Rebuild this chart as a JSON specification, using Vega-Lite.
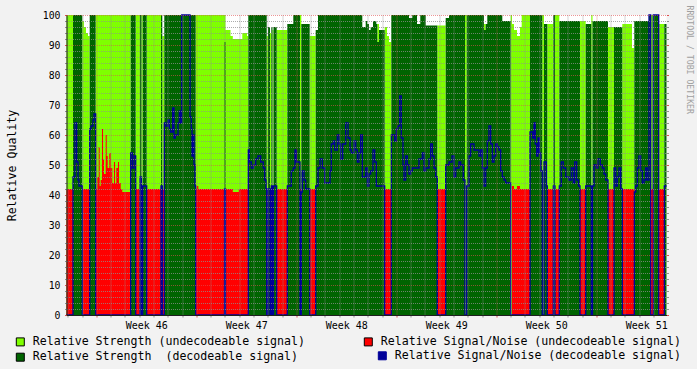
{
"$schema": "https://vega.github.io/schema/vega-lite/v6.json",
"width": 600, "height": 300,
"autosize": {"type": "none"},
"padding": {"left": 66.5, "top": 15, "right": 30.5, "bottom": 54},
"background": "#F2F2F2",
"config": {"view": {"fill": "white", "stroke": null}, "font": "DejaVu Sans Mono", "axis": {"labelFont": "DejaVu Sans Mono", "titleFont": "DejaVu Sans Mono", "labelColor": "black", "titleColor": "black"}},
"data": {"values": [
{"day":-2.086,"str_u":100,"str_d":0,"snr_u":42,"snr_d":0},
{"day":-1.631,"str_u":0,"str_d":100,"snr_u":0,"snr_d":46},
{"day":-1.491,"str_u":0,"str_d":100,"snr_u":0,"snr_d":64},
{"day":-1.372,"str_u":0,"str_d":100,"snr_u":0,"snr_d":51},
{"day":-1.281,"str_u":0,"str_d":100,"snr_u":0,"snr_d":45},
{"day":-1.211,"str_u":0,"str_d":100,"snr_u":0,"snr_d":43},
{"day":-0.98,"str_u":98,"str_d":0,"snr_u":42,"snr_d":0},
{"day":-0.861,"str_u":96,"str_d":0,"snr_u":42,"snr_d":0},
{"day":-0.721,"str_u":94,"str_d":0,"snr_u":42,"snr_d":0},
{"day":-0.581,"str_u":93,"str_d":0,"snr_u":42,"snr_d":0},
{"day":-0.462,"str_u":0,"str_d":100,"snr_u":0,"snr_d":62},
{"day":-0.371,"str_u":0,"str_d":100,"snr_u":0,"snr_d":63},
{"day":-0.231,"str_u":0,"str_d":100,"snr_u":0,"snr_d":65},
{"day":-0.161,"str_u":0,"str_d":100,"snr_u":0,"snr_d":67},
{"day":-0.042,"str_u":100,"str_d":0,"snr_u":42,"snr_d":0},
{"day":0.07,"str_u":100,"str_d":0,"snr_u":46,"snr_d":0},
{"day":0.168,"str_u":100,"str_d":0,"snr_u":56,"snr_d":0},
{"day":0.238,"str_u":100,"str_d":0,"snr_u":43,"snr_d":0},
{"day":0.308,"str_u":100,"str_d":0,"snr_u":45,"snr_d":0},
{"day":0.399,"str_u":100,"str_d":0,"snr_u":62,"snr_d":0},
{"day":0.469,"str_u":100,"str_d":0,"snr_u":52,"snr_d":0},
{"day":0.539,"str_u":100,"str_d":0,"snr_u":47,"snr_d":0},
{"day":0.658,"str_u":100,"str_d":0,"snr_u":60,"snr_d":0},
{"day":0.728,"str_u":100,"str_d":0,"snr_u":53,"snr_d":0},
{"day":0.798,"str_u":100,"str_d":0,"snr_u":49,"snr_d":0},
{"day":0.91,"str_u":100,"str_d":0,"snr_u":54,"snr_d":0},
{"day":1.008,"str_u":100,"str_d":0,"snr_u":49,"snr_d":0},
{"day":1.12,"str_u":100,"str_d":0,"snr_u":44,"snr_d":0},
{"day":1.239,"str_u":100,"str_d":0,"snr_u":51,"snr_d":0},
{"day":1.309,"str_u":100,"str_d":0,"snr_u":44,"snr_d":0},
{"day":1.4,"str_u":100,"str_d":0,"snr_u":49,"snr_d":0},
{"day":1.519,"str_u":100,"str_d":0,"snr_u":51,"snr_d":0},
{"day":1.589,"str_u":100,"str_d":0,"snr_u":44,"snr_d":0},
{"day":1.708,"str_u":100,"str_d":0,"snr_u":42,"snr_d":0},
{"day":1.82,"str_u":100,"str_d":0,"snr_u":41,"snr_d":0},
{"day":2.408,"str_u":0,"str_d":100,"snr_u":0,"snr_d":54},
{"day":2.52,"str_u":0,"str_d":100,"snr_u":0,"snr_d":49},
{"day":2.639,"str_u":0,"str_d":100,"snr_u":0,"snr_d":53},
{"day":2.758,"str_u":100,"str_d":0,"snr_u":42,"snr_d":0},
{"day":3.059,"str_u":0,"str_d":100,"snr_u":0,"snr_d":46},
{"day":3.164,"str_u":100,"str_d":0,"snr_u":42,"snr_d":0},
{"day":3.248,"str_u":0,"str_d":100,"snr_u":0,"snr_d":43},
{"day":3.528,"str_u":100,"str_d":0,"snr_u":42,"snr_d":0},
{"day":4.529,"str_u":0,"str_d":100,"snr_u":0,"snr_d":43},
{"day":4.62,"str_u":93,"str_d":0,"snr_u":42,"snr_d":0},
{"day":4.76,"str_u":0,"str_d":100,"snr_u":0,"snr_d":64},
{"day":4.879,"str_u":0,"str_d":100,"snr_u":0,"snr_d":63},
{"day":5.019,"str_u":0,"str_d":100,"snr_u":0,"snr_d":65},
{"day":5.11,"str_u":0,"str_d":100,"snr_u":0,"snr_d":62},
{"day":5.208,"str_u":0,"str_d":100,"snr_u":0,"snr_d":61},
{"day":5.348,"str_u":0,"str_d":100,"snr_u":0,"snr_d":69},
{"day":5.439,"str_u":0,"str_d":100,"snr_u":0,"snr_d":59},
{"day":5.53,"str_u":0,"str_d":100,"snr_u":0,"snr_d":60},
{"day":5.719,"str_u":0,"str_d":100,"snr_u":0,"snr_d":64},
{"day":5.81,"str_u":0,"str_d":100,"snr_u":0,"snr_d":68},
{"day":5.908,"str_u":0,"str_d":100,"snr_u":0,"snr_d":64},
{"day":5.978,"str_u":0,"str_d":100,"snr_u":0,"snr_d":100},
{"day":6.559,"str_u":0,"str_d":100,"snr_u":0,"snr_d":66},
{"day":6.65,"str_u":0,"str_d":100,"snr_u":0,"snr_d":62},
{"day":6.699,"str_u":0,"str_d":100,"snr_u":0,"snr_d":53},
{"day":6.769,"str_u":0,"str_d":100,"snr_u":0,"snr_d":60},
{"day":6.839,"str_u":0,"str_d":100,"snr_u":0,"snr_d":50},
{"day":6.909,"str_u":0,"str_d":100,"snr_u":0,"snr_d":43},
{"day":6.958,"str_u":100,"str_d":0,"snr_u":42,"snr_d":0},
{"day":7.049,"str_u":100,"str_d":0,"snr_u":43,"snr_d":0},
{"day":7.14,"str_u":100,"str_d":0,"snr_u":42,"snr_d":0},
{"day":8.974,"str_u":100,"str_d":91,"snr_u":0,"snr_d":42},
{"day":9.044,"str_u":95,"str_d":0,"snr_u":42,"snr_d":0},
{"day":9.394,"str_u":93,"str_d":0,"snr_u":42,"snr_d":0},
{"day":9.555,"str_u":92,"str_d":0,"snr_u":41,"snr_d":0},
{"day":9.975,"str_u":92,"str_d":0,"snr_u":42,"snr_d":0},
{"day":10.22,"str_u":94,"str_d":0,"snr_u":42,"snr_d":0},
{"day":10.549,"str_u":93,"str_d":0,"snr_u":42,"snr_d":0},
{"day":10.64,"str_u":0,"str_d":100,"snr_u":0,"snr_d":55},
{"day":10.71,"str_u":0,"str_d":100,"snr_u":0,"snr_d":51},
{"day":10.85,"str_u":0,"str_d":100,"snr_u":0,"snr_d":49},
{"day":10.99,"str_u":0,"str_d":100,"snr_u":0,"snr_d":50},
{"day":11.158,"str_u":0,"str_d":100,"snr_u":0,"snr_d":52},
{"day":11.319,"str_u":0,"str_d":100,"snr_u":0,"snr_d":53},
{"day":11.508,"str_u":0,"str_d":100,"snr_u":0,"snr_d":51},
{"day":11.69,"str_u":0,"str_d":100,"snr_u":0,"snr_d":49},
{"day":11.788,"str_u":0,"str_d":100,"snr_u":0,"snr_d":45},
{"day":11.879,"str_u":0,"str_d":100,"snr_u":0,"snr_d":42},
{"day":11.928,"str_u":93,"str_d":0,"snr_u":42,"snr_d":0},
{"day":12.019,"str_u":0,"str_d":96,"snr_u":0,"snr_d":42},
{"day":12.159,"str_u":94,"str_d":0,"snr_u":42,"snr_d":0},
{"day":12.25,"str_u":0,"str_d":96,"snr_u":0,"snr_d":43},
{"day":12.334,"str_u":95,"str_d":0,"snr_u":42,"snr_d":0},
{"day":12.404,"str_u":0,"str_d":96,"snr_u":0,"snr_d":43},
{"day":12.628,"str_u":95,"str_d":0,"snr_u":42,"snr_d":0},
{"day":13.37,"str_u":0,"str_d":97,"snr_u":0,"snr_d":43},
{"day":13.65,"str_u":0,"str_d":97,"snr_u":0,"snr_d":48},
{"day":13.79,"str_u":0,"str_d":100,"snr_u":0,"snr_d":49},
{"day":13.909,"str_u":0,"str_d":100,"snr_u":0,"snr_d":55},
{"day":14.0,"str_u":0,"str_d":100,"snr_u":0,"snr_d":51},
{"day":14.259,"str_u":100,"str_d":0,"snr_u":42,"snr_d":0},
{"day":14.35,"str_u":0,"str_d":97,"snr_u":0,"snr_d":41},
{"day":14.42,"str_u":0,"str_d":97,"snr_u":0,"snr_d":48},
{"day":14.539,"str_u":0,"str_d":97,"snr_u":0,"snr_d":45},
{"day":14.658,"str_u":0,"str_d":97,"snr_u":0,"snr_d":42},
{"day":14.938,"str_u":93,"str_d":0,"snr_u":42,"snr_d":0},
{"day":15.358,"str_u":0,"str_d":95,"snr_u":0,"snr_d":43},
{"day":15.519,"str_u":0,"str_d":100,"snr_u":0,"snr_d":49},
{"day":15.659,"str_u":0,"str_d":100,"snr_u":0,"snr_d":52},
{"day":15.82,"str_u":0,"str_d":100,"snr_u":0,"snr_d":49},
{"day":15.988,"str_u":0,"str_d":100,"snr_u":0,"snr_d":44},
{"day":16.359,"str_u":0,"str_d":100,"snr_u":0,"snr_d":48},
{"day":16.45,"str_u":0,"str_d":100,"snr_u":0,"snr_d":57},
{"day":16.59,"str_u":0,"str_d":100,"snr_u":0,"snr_d":58},
{"day":16.688,"str_u":0,"str_d":100,"snr_u":0,"snr_d":55},
{"day":16.87,"str_u":0,"str_d":100,"snr_u":0,"snr_d":60},
{"day":16.989,"str_u":0,"str_d":100,"snr_u":0,"snr_d":57},
{"day":17.108,"str_u":0,"str_d":100,"snr_u":0,"snr_d":52},
{"day":17.248,"str_u":0,"str_d":100,"snr_u":0,"snr_d":57},
{"day":17.458,"str_u":0,"str_d":100,"snr_u":0,"snr_d":64},
{"day":17.619,"str_u":0,"str_d":100,"snr_u":0,"snr_d":59},
{"day":17.759,"str_u":0,"str_d":100,"snr_u":0,"snr_d":55},
{"day":17.85,"str_u":0,"str_d":100,"snr_u":0,"snr_d":54},
{"day":18.039,"str_u":0,"str_d":100,"snr_u":0,"snr_d":58},
{"day":18.158,"str_u":0,"str_d":100,"snr_u":0,"snr_d":55},
{"day":18.27,"str_u":0,"str_d":100,"snr_u":0,"snr_d":51},
{"day":18.389,"str_u":0,"str_d":100,"snr_u":0,"snr_d":54},
{"day":18.508,"str_u":0,"str_d":100,"snr_u":0,"snr_d":60},
{"day":18.62,"str_u":0,"str_d":96,"snr_u":0,"snr_d":46},
{"day":18.858,"str_u":0,"str_d":98,"snr_u":0,"snr_d":49},
{"day":18.97,"str_u":0,"str_d":97,"snr_u":0,"snr_d":43},
{"day":19.089,"str_u":0,"str_d":95,"snr_u":0,"snr_d":47},
{"day":19.208,"str_u":0,"str_d":96,"snr_u":0,"snr_d":48},
{"day":19.369,"str_u":0,"str_d":98,"snr_u":0,"snr_d":55},
{"day":19.488,"str_u":0,"str_d":98,"snr_u":0,"snr_d":51},
{"day":19.6,"str_u":0,"str_d":97,"snr_u":0,"snr_d":43},
{"day":19.67,"str_u":97,"str_d":91,"snr_u":0,"snr_d":43},
{"day":19.789,"str_u":0,"str_d":95,"snr_u":0,"snr_d":43},
{"day":20.188,"str_u":96,"str_d":0,"snr_u":42,"snr_d":0},
{"day":20.349,"str_u":93,"str_d":0,"snr_u":42,"snr_d":0},
{"day":20.489,"str_u":91,"str_d":0,"snr_u":42,"snr_d":0},
{"day":20.65,"str_u":0,"str_d":100,"snr_u":0,"snr_d":60},
{"day":20.888,"str_u":0,"str_d":100,"snr_u":0,"snr_d":58},
{"day":21.0,"str_u":0,"str_d":100,"snr_u":0,"snr_d":62},
{"day":21.119,"str_u":0,"str_d":100,"snr_u":0,"snr_d":63},
{"day":21.238,"str_u":0,"str_d":100,"snr_u":0,"snr_d":73},
{"day":21.35,"str_u":0,"str_d":100,"snr_u":0,"snr_d":59},
{"day":21.469,"str_u":0,"str_d":100,"snr_u":0,"snr_d":50},
{"day":21.539,"str_u":0,"str_d":100,"snr_u":0,"snr_d":45},
{"day":21.658,"str_u":0,"str_d":100,"snr_u":0,"snr_d":53},
{"day":21.77,"str_u":0,"str_d":100,"snr_u":0,"snr_d":50},
{"day":21.889,"str_u":0,"str_d":99,"snr_u":0,"snr_d":47},
{"day":22.008,"str_u":0,"str_d":99,"snr_u":0,"snr_d":48},
{"day":22.12,"str_u":0,"str_d":100,"snr_u":0,"snr_d":49},
{"day":22.449,"str_u":0,"str_d":97,"snr_u":0,"snr_d":49},
{"day":22.589,"str_u":0,"str_d":97,"snr_u":0,"snr_d":52},
{"day":22.68,"str_u":0,"str_d":100,"snr_u":0,"snr_d":52},
{"day":22.82,"str_u":0,"str_d":100,"snr_u":0,"snr_d":54},
{"day":22.939,"str_u":0,"str_d":100,"snr_u":0,"snr_d":48},
{"day":23.058,"str_u":0,"str_d":96.5,"snr_u":0,"snr_d":49},
{"day":23.289,"str_u":0,"str_d":96.5,"snr_u":0,"snr_d":52},
{"day":23.408,"str_u":0,"str_d":96.5,"snr_u":0,"snr_d":57},
{"day":23.52,"str_u":0,"str_d":96.5,"snr_u":0,"snr_d":53},
{"day":23.639,"str_u":0,"str_d":96.5,"snr_u":0,"snr_d":49},
{"day":23.758,"str_u":0,"str_d":96.5,"snr_u":0,"snr_d":46},
{"day":23.87,"str_u":96.5,"str_d":0,"snr_u":42,"snr_d":0},
{"day":24.458,"str_u":0,"str_d":99,"snr_u":0,"snr_d":50},
{"day":24.689,"str_u":0,"str_d":100,"snr_u":0,"snr_d":51},
{"day":24.899,"str_u":0,"str_d":100,"snr_u":0,"snr_d":53},
{"day":25.039,"str_u":0,"str_d":100,"snr_u":0,"snr_d":46},
{"day":25.158,"str_u":0,"str_d":100,"snr_u":0,"snr_d":49},
{"day":25.389,"str_u":0,"str_d":100,"snr_u":0,"snr_d":51},
{"day":25.508,"str_u":0,"str_d":100,"snr_u":0,"snr_d":50},
{"day":25.69,"str_u":0,"str_d":100,"snr_u":0,"snr_d":45},
{"day":25.809,"str_u":100,"str_d":0,"snr_u":0,"snr_d":0},
{"day":25.928,"str_u":0,"str_d":100,"snr_u":0,"snr_d":43},
{"day":26.089,"str_u":0,"str_d":100,"snr_u":0,"snr_d":53},
{"day":26.208,"str_u":0,"str_d":100,"snr_u":0,"snr_d":57},
{"day":26.439,"str_u":0,"str_d":100,"snr_u":0,"snr_d":55},
{"day":26.789,"str_u":0,"str_d":100,"snr_u":0,"snr_d":53},
{"day":26.908,"str_u":0,"str_d":100,"snr_u":0,"snr_d":55},
{"day":27.02,"str_u":0,"str_d":100,"snr_u":0,"snr_d":49},
{"day":27.139,"str_u":97,"str_d":95,"snr_u":0,"snr_d":43},
{"day":27.258,"str_u":0,"str_d":97,"snr_u":0,"snr_d":49},
{"day":27.37,"str_u":0,"str_d":100,"snr_u":0,"snr_d":58},
{"day":27.489,"str_u":0,"str_d":100,"snr_u":0,"snr_d":63},
{"day":27.608,"str_u":0,"str_d":100,"snr_u":0,"snr_d":57},
{"day":27.72,"str_u":0,"str_d":100,"snr_u":0,"snr_d":51},
{"day":27.839,"str_u":0,"str_d":100,"snr_u":0,"snr_d":53},
{"day":27.958,"str_u":0,"str_d":100,"snr_u":0,"snr_d":57},
{"day":28.07,"str_u":0,"str_d":100,"snr_u":0,"snr_d":56},
{"day":28.189,"str_u":0,"str_d":100,"snr_u":0,"snr_d":55},
{"day":28.308,"str_u":0,"str_d":100,"snr_u":0,"snr_d":48},
{"day":28.42,"str_u":0,"str_d":98,"snr_u":0,"snr_d":46},
{"day":28.539,"str_u":0,"str_d":98,"snr_u":0,"snr_d":45},
{"day":28.658,"str_u":0,"str_d":98,"snr_u":0,"snr_d":44},
{"day":29.008,"str_u":100,"str_d":0,"snr_u":0,"snr_d":0},
{"day":29.099,"str_u":97,"str_d":0,"snr_u":43,"snr_d":0},
{"day":29.239,"str_u":95,"str_d":0,"snr_u":42,"snr_d":0},
{"day":29.449,"str_u":93,"str_d":0,"snr_u":43,"snr_d":0},
{"day":29.659,"str_u":96,"str_d":0,"snr_u":42,"snr_d":0},
{"day":29.778,"str_u":100,"str_d":0,"snr_u":42,"snr_d":0},
{"day":30.359,"str_u":0,"str_d":100,"snr_u":0,"snr_d":61},
{"day":30.548,"str_u":0,"str_d":100,"snr_u":0,"snr_d":59},
{"day":30.639,"str_u":0,"str_d":100,"snr_u":0,"snr_d":64},
{"day":30.73,"str_u":0,"str_d":100,"snr_u":0,"snr_d":57},
{"day":30.828,"str_u":0,"str_d":100,"snr_u":0,"snr_d":53},
{"day":30.919,"str_u":0,"str_d":100,"snr_u":0,"snr_d":59},
{"day":31.01,"str_u":0,"str_d":100,"snr_u":0,"snr_d":54},
{"day":31.108,"str_u":0,"str_d":100,"snr_u":0,"snr_d":48},
{"day":31.22,"str_u":100,"str_d":0,"snr_u":0,"snr_d":0},
{"day":31.339,"str_u":0,"str_d":97,"snr_u":0,"snr_d":51},
{"day":31.5,"str_u":0,"str_d":97,"snr_u":0,"snr_d":43},
{"day":31.57,"str_u":97,"str_d":0,"snr_u":42,"snr_d":0},
{"day":31.99,"str_u":0,"str_d":100,"snr_u":0,"snr_d":43},
{"day":32.109,"str_u":100,"str_d":0,"snr_u":42,"snr_d":0},
{"day":32.41,"str_u":0,"str_d":98,"snr_u":0,"snr_d":43},
{"day":32.55,"str_u":0,"str_d":98,"snr_u":0,"snr_d":51},
{"day":32.69,"str_u":0,"str_d":98,"snr_u":0,"snr_d":49},
{"day":32.858,"str_u":0,"str_d":98,"snr_u":0,"snr_d":46},
{"day":33.089,"str_u":0,"str_d":98,"snr_u":0,"snr_d":45},
{"day":33.25,"str_u":0,"str_d":98,"snr_u":0,"snr_d":49},
{"day":33.39,"str_u":0,"str_d":98,"snr_u":0,"snr_d":44},
{"day":33.488,"str_u":0,"str_d":98,"snr_u":0,"snr_d":51},
{"day":33.628,"str_u":0,"str_d":98,"snr_u":0,"snr_d":45},
{"day":33.754,"str_u":0,"str_d":98,"snr_u":0,"snr_d":43},
{"day":33.859,"str_u":98,"str_d":0,"snr_u":42,"snr_d":0},
{"day":34.258,"str_u":0,"str_d":97,"snr_u":0,"snr_d":43},
{"day":34.65,"str_u":100,"str_d":0,"snr_u":42,"snr_d":0},
{"day":34.734,"str_u":0,"str_d":98,"snr_u":0,"snr_d":43},
{"day":34.839,"str_u":0,"str_d":98,"snr_u":0,"snr_d":50},
{"day":35.0,"str_u":0,"str_d":98,"snr_u":0,"snr_d":49},
{"day":35.119,"str_u":0,"str_d":98,"snr_u":0,"snr_d":52},
{"day":35.28,"str_u":0,"str_d":98,"snr_u":0,"snr_d":50},
{"day":35.42,"str_u":0,"str_d":98,"snr_u":0,"snr_d":49},
{"day":35.539,"str_u":0,"str_d":98,"snr_u":0,"snr_d":47},
{"day":35.658,"str_u":0,"str_d":98,"snr_u":0,"snr_d":45},
{"day":35.819,"str_u":96,"str_d":0,"snr_u":42,"snr_d":0},
{"day":36.239,"str_u":0,"str_d":96,"snr_u":0,"snr_d":49},
{"day":36.358,"str_u":0,"str_d":96,"snr_u":0,"snr_d":43},
{"day":36.47,"str_u":0,"str_d":96,"snr_u":0,"snr_d":46},
{"day":36.589,"str_u":0,"str_d":96,"snr_u":0,"snr_d":49},
{"day":36.708,"str_u":0,"str_d":96,"snr_u":0,"snr_d":42},
{"day":36.82,"str_u":97,"str_d":0,"snr_u":42,"snr_d":0},
{"day":37.499,"str_u":89,"str_d":0,"snr_u":42,"snr_d":0},
{"day":37.66,"str_u":0,"str_d":98,"snr_u":0,"snr_d":41},
{"day":37.758,"str_u":0,"str_d":98,"snr_u":0,"snr_d":43},
{"day":37.87,"str_u":0,"str_d":98,"snr_u":0,"snr_d":49},
{"day":37.989,"str_u":0,"str_d":98,"snr_u":0,"snr_d":53},
{"day":38.108,"str_u":0,"str_d":98,"snr_u":0,"snr_d":48},
{"day":38.22,"str_u":0,"str_d":98,"snr_u":0,"snr_d":44},
{"day":38.339,"str_u":0,"str_d":98,"snr_u":0,"snr_d":45},
{"day":38.458,"str_u":0,"str_d":98,"snr_u":0,"snr_d":49},
{"day":38.57,"str_u":0,"str_d":98,"snr_u":0,"snr_d":45},
{"day":38.689,"str_u":0,"str_d":100,"snr_u":0,"snr_d":100},
{"day":38.808,"str_u":100,"str_d":0,"snr_u":42,"snr_d":0},
{"day":38.99,"str_u":0,"str_d":100,"snr_u":0,"snr_d":100},
{"day":39.368,"str_u":97,"str_d":0,"snr_u":42,"snr_d":0},
{"day":39.76,"str_u":0,"str_d":97,"snr_u":0,"snr_d":43},
{"day":39.914,"str_u":0,"str_d":97,"snr_u":0,"snr_d":43}
]},
"layer": [
{"mark": {"type": "area", "interpolate": "step-after"},
 "encoding": {
  "x": {"field": "day", "type": "quantitative", "scale": {"domain": [-2.086, 39.914], "nice": false, "zero": false},
        "axis": {"orient": "bottom", "values": [-2,-1,1,2,3,4,5,6,8,9,10,11,12,13,15,16,17,18,19,20,22,23,24,25,26,27,29,30,31,32,33,34,36,37,38,39], "grid": true, "gridColor": "#8F8F8F", "gridOpacity": 0.75, "gridDash": [1,1], "labels": false, "ticks": true, "tickSize": 2, "tickColor": "#8F8F8F", "domain": false, "title": null, "zindex": 1}},
  "y": {"field": "str_u", "type": "quantitative", "scale": {"domain": [0, 100], "nice": false},
        "axis": {"orient": "left", "values": [2,4,6,8,12,14,16,18,22,24,26,28,32,34,36,38,42,44,46,48,52,54,56,58,62,64,66,68,72,74,76,78,82,84,86,88,92,94,96,98], "grid": true, "gridColor": "#8F8F8F", "gridOpacity": 0.75, "gridDash": [1,1], "labels": false, "tickSize": 2, "tickColor": "#8F8F8F", "domain": false, "title": null, "zindex": 1}},
  "color": {"datum": "Relative Strength (undecodeable signal)", "type": "nominal",
    "scale": {"domain": ["Relative Strength (undecodeable signal)", "Relative Signal/Noise (undecodeable signal)", "Relative Strength \u00a0(decodeable signal)"], "range": ["#7FFF00", "#FF0000", "#006400"]},
    "legend": {"orient": "none", "legendX": -52, "legendY": 321, "direction": "horizontal", "columns": 2, "columnPadding": 56, "rowPadding": 2.4, "symbolType": "square", "symbolSize": 64, "symbolStrokeColor": "black", "symbolStrokeWidth": 1, "symbolOpacity": 1, "labelFont": "DejaVu Sans Mono", "labelFontSize": 11.6, "labelOffset": 6.7, "labelColor": "black", "labelLimit": 0, "padding": 0, "title": null}}
 }},
{"mark": {"type": "area", "interpolate": "step-after"},
 "encoding": {
  "x": {"field": "day", "type": "quantitative",
        "axis": {"orient": "bottom", "values": [0,7,14,21,28,35], "grid": true, "gridColor": "#DE5050", "gridOpacity": 0.6, "gridDash": [1,1], "labels": false, "ticks": true, "tickSize": 2, "tickColor": "#DE5050", "domain": false, "title": null, "zindex": 1}},
  "y": {"field": "str_d", "type": "quantitative",
        "axis": {"orient": "left", "values": [0,10,20,30,40,50,60,70,80,90,100], "grid": true, "gridColor": "#DE5050", "gridOpacity": 0.6, "gridDash": [1,1], "tickSize": 2, "tickColor": "#DE5050", "labelFontSize": 9.8, "labelPadding": 4.5, "domain": true, "domainColor": "#1F1F1F", "title": "Relative Quality", "titleFontSize": 11.6, "titleFontWeight": "normal", "titleX": -51.5, "titleY": 150, "titleAngle": -90, "titleBaseline": "alphabetic", "titleAlign": "center", "zindex": 1}},
  "color": {"datum": "Relative Strength \u00a0(decodeable signal)", "type": "nominal", "legend": null}
 }},
{"mark": {"type": "area", "interpolate": "step-after"},
 "encoding": {
  "x": {"field": "day", "type": "quantitative",
        "axis": {"orient": "bottom", "values": [3.5,10.5,17.5,24.5,31.5,38.5], "labelExpr": "'Week ' + (46 + floor(datum.value / 7))", "grid": false, "ticks": false, "labelFontSize": 10, "labelPadding": 5, "labelFlush": false, "labelOverlap": false, "domain": true, "domainColor": "#1F1F1F", "title": null, "zindex": 1}},
  "y": {"field": "snr_u", "type": "quantitative",
        "axis": {"orient": "right", "values": [2,4,6,8,12,14,16,18,22,24,26,28,32,34,36,38,42,44,46,48,52,54,56,58,62,64,66,68,72,74,76,78,82,84,86,88,92,94,96,98], "grid": false, "labels": false, "tickSize": 2, "tickColor": "#8F8F8F", "domain": false,
                 "title": "RRDTOOL / TOBI OETIKER", "titleFont": "DejaVu Sans Mono", "titleFontSize": 8.2, "titleFontWeight": "normal", "titleColor": "#A0A0A0", "titleAngle": 90, "titleX": 21.5, "titleY": -10, "titleAlign": "left", "titleBaseline": "middle"}},
  "color": {"datum": "Relative Signal/Noise (undecodeable signal)", "type": "nominal", "legend": null}
 }},
{"mark": {"type": "line", "interpolate": "step-after", "strokeWidth": 1.3},
 "encoding": {
  "x": {"field": "day", "type": "quantitative", "axis": null},
  "y": {"field": "snr_d", "type": "quantitative",
        "axis": {"orient": "right", "values": [0,10,20,30,40,50,60,70,80,90,100], "grid": false, "labels": false, "tickSize": 2, "tickColor": "#DE5050", "domain": false, "title": null}},
  "stroke": {"datum": "Relative Signal/Noise (decodeable signal)", "type": "nominal",
    "scale": {"domain": ["Relative Signal/Noise (decodeable signal)"], "range": ["#000099"]},
    "legend": {"orient": "none", "legendX": 310, "legendY": 335, "symbolType": "square", "symbolSize": 64, "symbolFillColor": "#000099", "symbolStrokeColor": "black", "symbolStrokeWidth": 1, "symbolOpacity": 1, "labelFont": "DejaVu Sans Mono", "labelFontSize": 11.6, "labelOffset": 6.7, "labelColor": "black", "labelLimit": 0, "padding": 0, "title": null}}
 }}
],
"resolve": {"axis": {"x": "independent", "y": "independent"}}
}
